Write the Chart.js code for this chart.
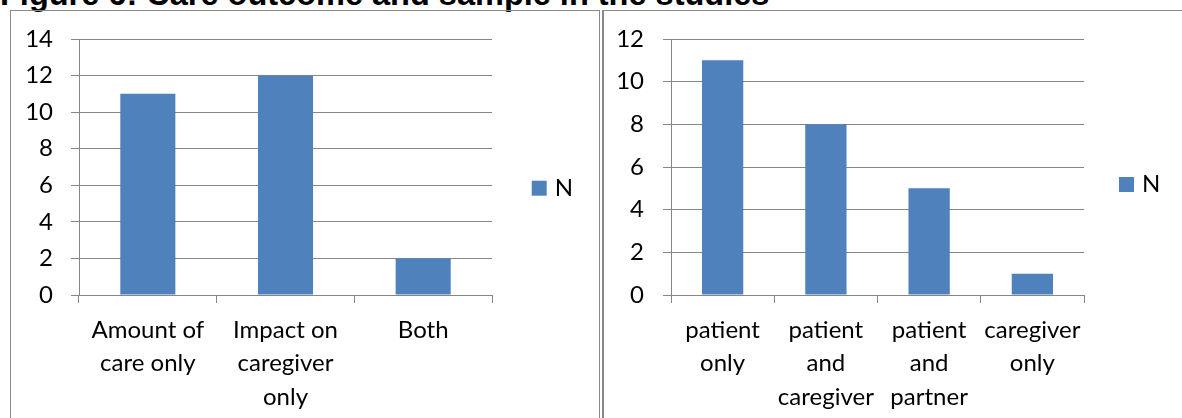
<!DOCTYPE html>
<html>
<head>
<meta charset="utf-8">
<script src="https://cdn.jsdelivr.net/npm/chart.js@4.4.1/dist/chart.umd.min.js"></script>
<style>
  html, body { margin: 0; padding: 0; background: #fff; width: 1182px; height: 418px; overflow: hidden; position: relative; }
  .title { position: absolute; left: 0; top: -22px; font: bold 32.5px/32px "Liberation Sans", Arial, sans-serif; color: #000; white-space: nowrap; }
  .frame { position: absolute; box-sizing: border-box; border: 1px solid #898989; }
  #frameA { left: 10px; top: 10px; width: 590px; height: 420px; }
  #frameB { left: 602px; top: 10px; width: 600px; height: 420px; border-left-width: 2px; }
  canvas { position: absolute; }
  #careChart { left: 11px; top: 11px; }
  #sampleChart { left: 605px; top: 11px; }
</style>
</head>
<body>
<div class="title">Figure 6: Care outcome and sample in the studies</div>
<div class="frame" id="frameA"></div>
<div class="frame" id="frameB"></div>
<canvas id="careChart" width="588" height="407"></canvas>
<canvas id="sampleChart" width="577" height="407"></canvas>
<script>
// Care outcome measured by the studies
const outcomeCategories = [['Amount of', 'care only'], ['Impact on', 'caregiver', 'only'], 'Both'];
const outcomeCounts = [11, 12, 2];
const outcomeAxis = { min: 0, max: 14, step: 2 };

// Sample the studies drew on
const sampleCategories = [['patient', 'only'], ['patient', 'and', 'caregiver'], ['patient', 'and', 'partner'], ['caregiver', 'only']];
const sampleCounts = [11, 8, 5, 1];
const sampleAxis = { min: 0, max: 12, step: 2 };

const seriesName = 'N';

const BAR_BLUE = '#4F81BD';
const LINE_GREY = '#868686';
const FAMILY = 'Lato, "Open Sans", sans-serif';
const LABEL_FONT = { family: FAMILY, size: 24, lineHeight: 1.4 };
const KEY_FONT = { family: FAMILY, size: 24, lineHeight: 1.2 };
// tight line box so the top value label does not push the plot down
const VALUE_FONT = { family: FAMILY, size: 24, lineHeight: 0.4 };

function drawBarChart(canvasId, categories, counts, axis, box) {
  return new Chart(document.getElementById(canvasId), {
    type: 'bar',
    data: {
      labels: categories,
      datasets: [{
        label: seriesName,
        data: counts,
        backgroundColor: BAR_BLUE,
        borderWidth: 0,
        barPercentage: 0.4,
        categoryPercentage: 1.0
      }]
    },
    options: {
      responsive: false,
      animation: false,
      events: [],
      layout: { padding: { top: box.padTop, bottom: 0, left: 0, right: box.padRight } },
      plugins: {
        tooltip: { enabled: false },
        legend: {
          position: 'right',
          align: 'start',
          maxWidth: 80,
          // empty title block only sets the vertical offset of the key
          title: { display: true, text: '', padding: 0, font: { size: box.legendDrop, lineHeight: 1 } },
          labels: {
            color: '#000',
            font: KEY_FONT,
            usePointStyle: true,
            pointStyle: 'rect',
            boxWidth: 7,
            boxHeight: 15,
            padding: box.legendPad
          }
        }
      },
      scales: {
        x: {
          grid: { drawOnChartArea: false, drawTicks: true, tickLength: 8, color: LINE_GREY, offset: true },
          border: { color: LINE_GREY },
          ticks: { color: '#000', font: LABEL_FONT, padding: 10, autoSkip: false, maxRotation: 0, minRotation: 0 },
          afterFit: s => { s.height = box.xAxisHeight; }
        },
        y: {
          min: axis.min,
          max: axis.max,
          grid: { color: LINE_GREY, tickLength: 8, drawTicks: true },
          border: { color: LINE_GREY },
          ticks: { stepSize: axis.step, autoSkip: false, color: '#000', font: VALUE_FONT, padding: box.yLabelPad },
          afterFit: s => { s.width = box.yAxisWidth; }
        }
      }
    }
  });
}

function render() {
  drawBarChart('careChart', outcomeCategories, outcomeCounts, outcomeAxis,
    { padTop: 28, padRight: 27, xAxisHeight: 123, yAxisWidth: 68, legendPad: 43.7, legendDrop: 93.5, yLabelPad: 18 });
  drawBarChart('sampleChart', sampleCategories, sampleCounts, sampleAxis,
    { padTop: 28, padRight: 18, xAxisHeight: 123, yAxisWidth: 66, legendPad: 39, legendDrop: 94.5, yLabelPad: 19 });
}

if (document.fonts && document.fonts.load) {
  document.fonts.load('24px Lato').then(render, render);
} else {
  render();
}
</script>
</body>
</html>
